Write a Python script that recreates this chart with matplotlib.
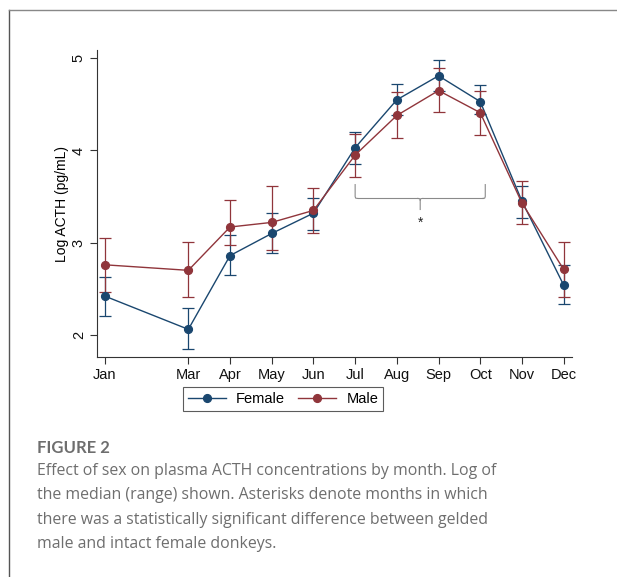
import matplotlib
matplotlib.use("Agg")
import matplotlib.pyplot as plt
from matplotlib.lines import Line2D
import numpy as np

# ---- data ----
months = [1, 3, 4, 5, 6, 7, 8, 9, 10, 11, 12]
month_labels = ["Jan", "Mar", "Apr", "May", "Jun", "Jul", "Aug", "Sep", "Oct", "Nov", "Dec"]

female_med = [2.42, 2.06, 2.86, 3.10, 3.32, 4.03, 4.55, 4.81, 4.53, 3.45, 2.54]
female_lo  = [2.20, 1.85, 2.65, 2.89, 3.14, 3.85, 4.38, 4.65, 4.40, 3.27, 2.33]
female_hi  = [2.63, 2.29, 3.08, 3.32, 3.49, 4.20, 4.72, 4.98, 4.71, 3.62, 2.76]

male_med = [2.76, 2.70, 3.17, 3.22, 3.35, 3.95, 4.38, 4.65, 4.41, 3.43, 2.71]
male_lo  = [2.46, 2.41, 2.98, 2.92, 3.11, 3.71, 4.14, 4.42, 4.17, 3.20, 2.41]
male_hi  = [3.05, 3.01, 3.46, 3.61, 3.59, 4.18, 4.63, 4.89, 4.65, 3.67, 3.01]

yticks = [2, 3, 4, 5]
sig_months = [7, 10.12]   # bracket span (Jul .. Oct)

series_names = ["Female", "Male"]
navy = "#1a476f"
maroon = "#90353b"

# ---- figure ----
plt.rcParams["font.family"] = ["Liberation Sans", "DejaVu Sans"]
fig = plt.figure(figsize=(6.17, 5.77), dpi=100)
fig.patch.set_facecolor("white")

# outer frame (top and left lines)
fig.add_artist(Line2D([9/617, 9/617], [0, 1 - 10/577], color="#555555", lw=1.0,
                      transform=fig.transFigure))
fig.add_artist(Line2D([9/617, 1], [1 - 10/577, 1 - 10/577], color="#888888", lw=1.0,
                      transform=fig.transFigure))

ax = fig.add_axes([97/617, 1 - 357/577, (572 - 97)/617, (357 - 50)/577])

def draw(med, lo, hi, color, label):
    med = np.array(med); lo = np.array(lo); hi = np.array(hi)
    ax.errorbar(months, med, yerr=[med - lo, hi - med], fmt="none", ecolor=color,
                elinewidth=0.9, capsize=4, capthick=0.9, zorder=2)
    ax.plot(months, med, color=color, lw=1.0, marker="o", markersize=5.6,
            markerfacecolor=color, markeredgecolor=color, label=label, zorder=3)

draw(female_med, female_lo, female_hi, navy, series_names[0])
draw(male_med, male_lo, male_hi, maroon, series_names[1])

# significance bracket
x0, x1 = sig_months
xm = (x0 + x1) / 2
ytop, ybar, ynotch = 3.63, 3.48, 3.36
bc = "#8a8a8a"
r = 0.06
ax.plot([x0, x0, x0 + r * 0.2, x0 + r], [ytop, ybar + 0.02, ybar + 0.003, ybar], color=bc, lw=0.8)
ax.plot([x1, x1, x1 - r * 0.2, x1 - r], [ytop, ybar + 0.02, ybar + 0.003, ybar], color=bc, lw=0.8)
ax.plot([x0 + r, xm - r], [ybar, ybar], color=bc, lw=0.8)
ax.plot([xm + r, x1 - r], [ybar, ybar], color=bc, lw=0.8)
ax.plot([xm - r, xm - r * 0.2, xm, xm], [ybar, ybar - 0.003, ybar - 0.02, ynotch], color=bc, lw=0.8)
ax.plot([xm + r, xm + r * 0.2, xm], [ybar, ybar - 0.003, ybar - 0.02], color=bc, lw=0.8)
ax.text(xm, 3.22, "*", ha="center", va="center", fontsize=10, color="#222222")

ax.set_xlim(0.81, 12.2)
ax.set_ylim(1.76, 5.09)
ax.set_xticks(months)
ax.set_xticklabels(month_labels)
ax.set_yticks(yticks)
ax.set_yticklabels([str(v) for v in yticks], rotation=90, va="center")
ax.set_ylabel("Log ACTH (pg/mL)", fontsize=10, labelpad=2)
for s in ["top", "right"]:
    ax.spines[s].set_visible(False)
for s in ["left", "bottom"]:
    ax.spines[s].set_color("#333333")
    ax.spines[s].set_linewidth(0.8)
ax.tick_params(axis="both", direction="out", length=5, width=0.8, color="#333333",
               labelsize=10.5, labelcolor="#111111")
ax.tick_params(axis="x", pad=3)
ax.tick_params(axis="y", pad=3)

leg = fig.legend(loc="center", bbox_to_anchor=(283/617, 1 - 399/577), ncol=2,
                 frameon=True, fancybox=False, fontsize=10.5, handlelength=2.6,
                 columnspacing=0.9, handletextpad=0.7, borderpad=0.35, borderaxespad=0)
leg.get_frame().set_edgecolor("#333333")
leg.get_frame().set_linewidth(0.8)
for h in leg.legend_handles:
    h.set_markersize(5.6)

# caption
cap_color = "#6e6e6e"
fig.text(37/617, 1 - 448/577, "FIGURE 2", fontsize=12, fontweight="bold",
         color=cap_color, family=["Lato", "DejaVu Sans"], va="center")
cap_lines = [
    "Effect of sex on plasma ACTH concentrations by month. Log of",
    "the median (range) shown. Asterisks denote months in which",
    "there was a statistically significant difference between gelded",
    "male and intact female donkeys.",
]
for i, line in enumerate(cap_lines):
    fig.text(37/617, 1 - (471 + i * 24.3)/577, line, fontsize=11.4,
             color=cap_color, family=["Open Sans", "DejaVu Sans"], va="center")

fig.savefig("out.png", dpi=100)
